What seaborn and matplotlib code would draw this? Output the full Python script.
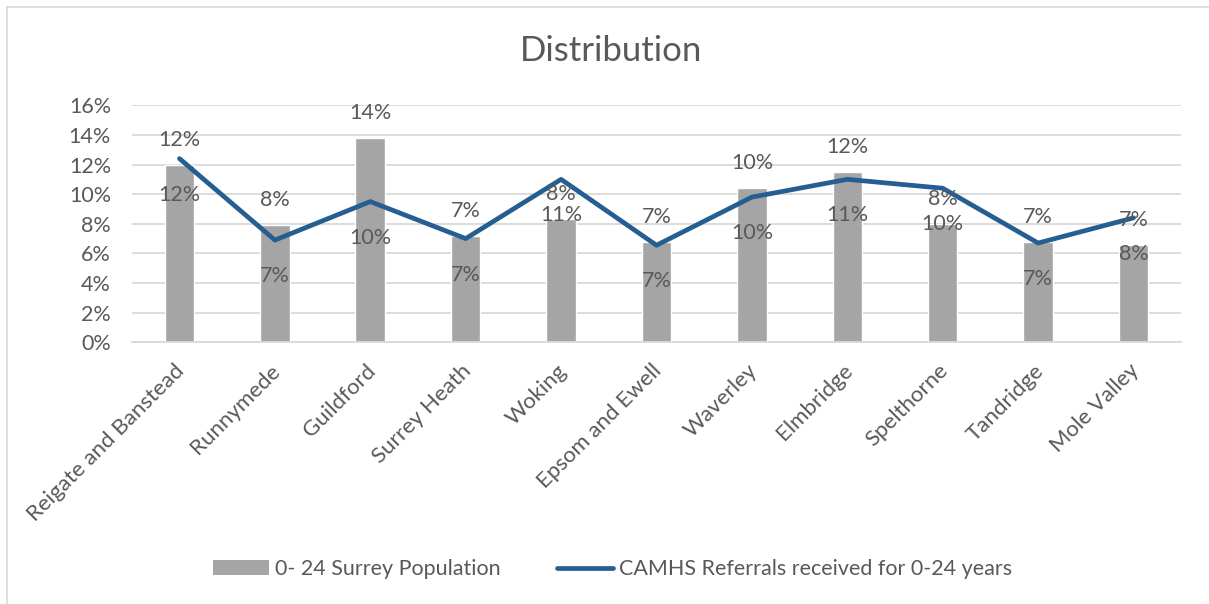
import matplotlib
matplotlib.use("Agg")
import matplotlib.pyplot as plt
import matplotlib.lines as mlines
import matplotlib.patches as mpatches
import matplotlib.transforms as mtransforms
import seaborn as sns
import pandas as pd
import numpy as np

# ---- data ----
districts = ["Reigate and Banstead", "Runnymede", "Guildford", "Surrey Heath", "Woking",
             "Epsom and Ewell", "Waverley", "Elmbridge", "Spelthorne", "Tandridge", "Mole Valley"]
population_share = [0.120, 0.079, 0.138, 0.072, 0.0835, 0.068, 0.104, 0.115, 0.080, 0.068, 0.066]
referral_share = [0.124, 0.069, 0.095, 0.070, 0.110, 0.0655, 0.098, 0.110, 0.104, 0.067, 0.084]
series_names = ["0- 24 Surrey Population", "CAMHS Referrals received for 0-24 years"]
title_text = "Distribution"
y_ticks = [0, 0.02, 0.04, 0.06, 0.08, 0.10, 0.12, 0.14, 0.16]

BAR_COLOR = "#A5A5A5"
LINE_COLOR = "#255E91"
TEXT_COLOR = "#595959"
GRID_COLOR = "#D9D9D9"

sns.set_theme(style="white")
plt.rcParams["font.family"] = ["Lato", "DejaVu Sans"]

df = pd.DataFrame({"district": districts, "population": population_share, "referrals": referral_share})

fig = plt.figure(figsize=(12.09, 6.04), dpi=100)
ax = fig.add_axes([0.109, 0.4333, 0.868, 0.3924])

sns.barplot(data=df, x="district", y="population", color=BAR_COLOR, width=0.31,
            saturation=1, ax=ax, zorder=2)
sns.lineplot(x=np.arange(len(districts)), y=df["referrals"], color=LINE_COLOR, linewidth=3.4,
             ax=ax, zorder=3, solid_capstyle="round", solid_joinstyle="round")

ax.set_xlim(-0.5, len(districts) - 0.5)
ax.set_ylim(0, 0.16)
ax.set_yticks(y_ticks)
ax.set_yticklabels([f"{int(round(t*100))}%" for t in y_ticks], fontsize=15.5, color=TEXT_COLOR)
ax.set_xticks(np.arange(len(districts)))
ax.set_xticklabels(districts, rotation=45, ha="right", rotation_mode="anchor",
                   fontsize=16, color=TEXT_COLOR)
ax.tick_params(axis="both", length=0)
ax.tick_params(axis="y", pad=15)
ax.tick_params(axis="x", pad=8)
shift = mtransforms.ScaledTranslation(-5 / 100, -7 / 100, fig.dpi_scale_trans)
for lab in ax.get_xticklabels():
    lab.set_transform(lab.get_transform() + shift)
ax.set_xlabel("")
ax.set_ylabel("")
ax.grid(axis="y", color=GRID_COLOR, linewidth=1.3, zorder=0)
ax.set_axisbelow(True)
for s in ["top", "right", "left"]:
    ax.spines[s].set_visible(False)
ax.spines["bottom"].set_color(GRID_COLOR)
ax.spines["bottom"].set_linewidth(1.3)

# data labels
for i, (p, r) in enumerate(zip(population_share, referral_share)):
    ax.annotate(f"{p*100:.0f}%", xy=(i, p), xytext=(0, 18), textcoords="offset points",
                ha="center", va="center", fontsize=15.5, color=TEXT_COLOR, zorder=4)
    ax.annotate(f"{r*100:.0f}%", xy=(i, r), xytext=(0, -26), textcoords="offset points",
                ha="center", va="center", fontsize=15.5, color=TEXT_COLOR, zorder=4)

fig.text(0.5055, 1 - 51 / 604, title_text, ha="center", va="center", fontsize=25, color=TEXT_COLOR)

handles = [mpatches.Patch(facecolor=BAR_COLOR, edgecolor="none", label=series_names[0]),
           mlines.Line2D([], [], color=LINE_COLOR, linewidth=3.4, solid_capstyle="round",
                         label=series_names[1])]
fig.legend(handles=handles, loc="center", bbox_to_anchor=(0.5066, 1 - 569 / 604), ncol=2,
           frameon=False, fontsize=15.5, labelcolor=TEXT_COLOR, handlelength=2.6,
           handleheight=0.65, handletextpad=0.3, columnspacing=2.6)

# chart area border (left & top)
fig.add_artist(mlines.Line2D([7 / 1209, 7 / 1209], [0, 1 - 7 / 604], transform=fig.transFigure,
                             color=GRID_COLOR, linewidth=1.2))
fig.add_artist(mlines.Line2D([7 / 1209, 1], [1 - 7 / 604, 1 - 7 / 604], transform=fig.transFigure,
                             color=GRID_COLOR, linewidth=1.2))

fig.savefig("out.png", dpi=100, facecolor="white")
